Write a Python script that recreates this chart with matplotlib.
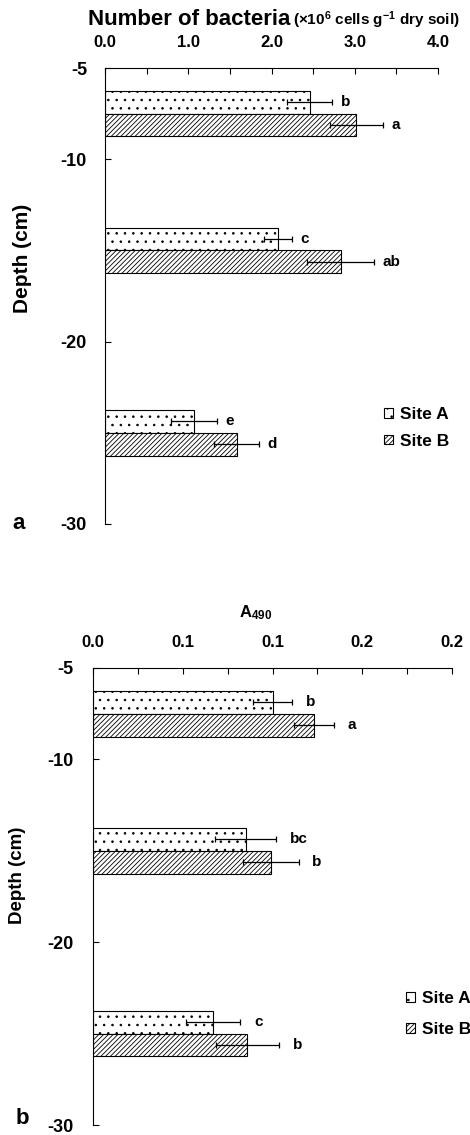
import numpy as np
import matplotlib
matplotlib.use('Agg')
import matplotlib.pyplot as plt

plt.rcParams['font.family'] = ['Liberation Sans', 'DejaVu Sans']
plt.rcParams['font.weight'] = 'bold'
plt.rcParams['mathtext.fontset'] = 'custom'
plt.rcParams['mathtext.rm'] = 'Liberation Sans:bold'
plt.rcParams['mathtext.bf'] = 'Liberation Sans:bold'
plt.rcParams['mathtext.default'] = 'bf'
plt.rcParams['hatch.linewidth'] = 0.6

# hlbky odberu (stred skupiny stlpcov)
hlbky = [-7.5, -15, -25]
lokality = ['Site A', 'Site B']

# a) pocet baktérii (x10^6 buniek g-1 suchej pody)
bakterie_A = [2.46, 2.08, 1.07]
bakterie_A_err = [0.27, 0.17, 0.28]
bakterie_B = [3.02, 2.83, 1.58]
bakterie_B_err = [0.32, 0.40, 0.27]
pismena_bakt_A = ['b', 'c', 'e']
pismena_bakt_B = ['a', 'ab', 'd']

# b) A490
a490_A = [0.100, 0.085, 0.067]
a490_A_err = [0.011, 0.017, 0.015]
a490_B = [0.123, 0.099, 0.086]
a490_B_err = [0.011, 0.0155, 0.0175]
pismena_a490_A = ['b', 'bc', 'c']
pismena_a490_B = ['a', 'b', 'b']

x_popisky_a = ['0.0', '1.0', '2.0', '3.0', '4.0']
x_popisky_b = ['0.0', '0.1', '0.1', '0.2', '0.2']
y_ticky = [-5, -10, -20, -30]

W, H = 470, 1135
fig = plt.figure(figsize=(W / 100, H / 100), dpi=100)

vyska = 1.25


def panel(ax, hodnA, errA, hodnB, errB, pisA, pisB, dx, ypad):
    y = np.array(hlbky)
    bA = ax.barh(y + vyska / 2, hodnA, height=vyska, color='white',
                 edgecolor='black', linewidth=0.8, hatch='..', label=lokality[0])
    bB = ax.barh(y - vyska / 2, hodnB, height=vyska, color='white',
                 edgecolor='black', linewidth=0.8, hatch='///////', label=lokality[1])
    ax.errorbar(hodnA, y + vyska / 2, xerr=errA, fmt='none', ecolor='black',
                elinewidth=0.9, capsize=2.5, capthick=0.9)
    ax.errorbar(hodnB, y - vyska / 2, xerr=errB, fmt='none', ecolor='black',
                elinewidth=0.9, capsize=2.5, capthick=0.9)
    for v, e, p, yy in zip(hodnA, errA, pisA, y + vyska / 2):
        ax.annotate(p, (v + e, yy), xytext=(dx, 0), textcoords='offset points',
                    ha='left', va='center', fontsize=11, fontweight='bold')
    for v, e, p, yy in zip(hodnB, errB, pisB, y - vyska / 2):
        ax.annotate(p, (v + e, yy), xytext=(dx, 0), textcoords='offset points',
                    ha='left', va='center', fontsize=11, fontweight='bold')
    ax.set_ylim(-30, -5)
    ax.set_yticks(y_ticky)
    ax.set_yticklabels([str(t) for t in y_ticky])
    ax.spines['right'].set_visible(False)
    ax.spines['bottom'].set_visible(False)
    ax.xaxis.tick_top()
    ax.tick_params(axis='x', direction='in', length=4, pad=13, labelsize=12,
                   which='both')
    ax.tick_params(axis='y', direction='in', length=4, pad=ypad, labelsize=13)
    for l in ax.get_xticklabels() + ax.get_yticklabels():
        l.set_fontweight('bold')
    return bA, bB


# panel a
ax1 = fig.add_axes([105 / W, 1 - 524 / H, 333 / W, 456 / H])
h1 = panel(ax1, bakterie_A, bakterie_A_err, bakterie_B, bakterie_B_err,
           pismena_bakt_A, pismena_bakt_B, 6, 13)
ax1.set_xlim(0, 4.0)
ax1.set_xticks(np.arange(0, 4.01, 0.5))
ax1.set_xticklabels([x_popisky_a[i // 2] if i % 2 == 0 else '' for i in range(9)])
fig.text(88 / W, 1 - 25 / H, 'Number of bacteria', fontsize=16,
         fontweight='bold', va='baseline', ha='left')
fig.text(293 / W, 1 - 25 / H, r'(×10$^{6}$ cells g$^{-1}$ dry soil)', fontsize=11,
         fontweight='bold', va='baseline', ha='left')
fig.text(23 / W, 1 - 258 / H, 'Depth (cm)', rotation=90, fontsize=15,
         fontweight='bold', va='center', ha='center')
fig.text(19 / W, 1 - 524 / H, 'a', fontsize=16, fontweight='bold',
         va='center', ha='center')
fig.legend(h1, lokality, loc='center left', bbox_to_anchor=(384 / W, 1 - 428 / H),
           frameon=False, fontsize=12.5, handlelength=0.5, handleheight=0.5,
           handletextpad=0.4, labelspacing=0.65, borderpad=0, borderaxespad=0)

# panel b
ax2 = fig.add_axes([93 / W, 1 - 1125 / H, 359 / W, 457 / H])
h2 = panel(ax2, a490_A, a490_A_err, a490_B, a490_B_err,
           pismena_a490_A, pismena_a490_B, 10, 14)
ax2.set_xlim(0, 0.2)
ax2.set_xticks(np.arange(0, 0.2001, 0.025))
ax2.set_xticklabels([x_popisky_b[i // 2] if i % 2 == 0 else '' for i in range(9)])
fig.text(256 / W, 1 - 613 / H, r'A$_{490}$', fontsize=12,
         fontweight='bold', va='center', ha='center')
fig.text(18 / W, 1 - 875 / H, 'Depth (cm)', rotation=90, fontsize=13.5,
         fontweight='bold', va='center', ha='center')
fig.text(22 / W, 1 - 1119 / H, 'b', fontsize=16, fontweight='bold',
         va='center', ha='center')
fig.legend(h2, lokality, loc='center left', bbox_to_anchor=(406 / W, 1 - 1014 / H),
           frameon=False, fontsize=12.5, handlelength=0.5, handleheight=0.5,
           handletextpad=0.4, labelspacing=0.9, borderpad=0, borderaxespad=0)

fig.savefig('out.png', dpi=100)
